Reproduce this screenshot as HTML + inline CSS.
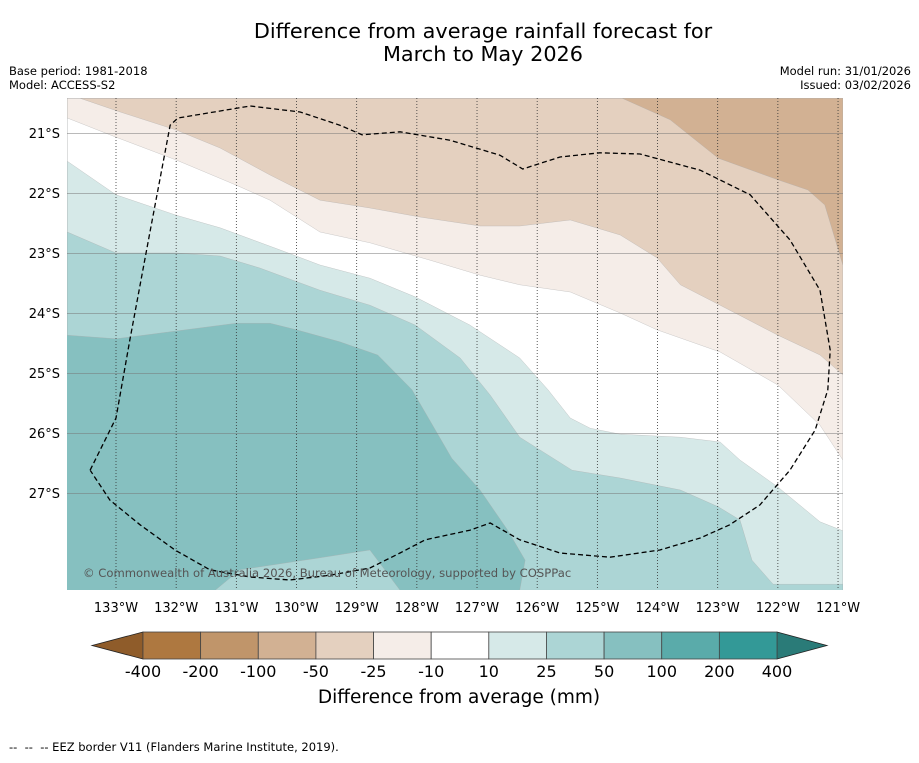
<!DOCTYPE html>
<html><head><meta charset="utf-8"><style>
body{margin:0;background:#fff;}
svg text{font-family:"DejaVu Sans","Liberation Sans",sans-serif;}
</style></head><body>
<svg id="chart" width="919" height="758" viewBox="0 0 919 758" xmlns="http://www.w3.org/2000/svg">
<text x="483" y="38" font-size="20.8" text-anchor="middle">Difference from average rainfall forecast for</text>
<text x="483" y="61" font-size="20.8" text-anchor="middle">March to May 2026</text>
<text x="9" y="75" font-size="11.5">Base period: 1981-2018</text>
<text x="9" y="89" font-size="11.5">Model: ACCESS-S2</text>
<text x="911" y="75" font-size="11.5" text-anchor="end">Model run: 31/01/2026</text>
<text x="911" y="89" font-size="11.5" text-anchor="end">Issued: 03/02/2026</text>
<g id="map"></g>
<g id="cbar"></g>
<text x="459" y="703" font-size="18.5" text-anchor="middle">Difference from average (mm)</text>
<text x="9" y="751" font-size="11.5" style="white-space:pre" xml:space="preserve">--  --  -- EEZ border V11 (Flanders Marine Institute, 2019).</text>
</svg>
<script>
const lonTicks=[133,132,131,130,129,128,127,126,125,124,123,122,121];
const latTicks=[21,22,23,24,25,26,27];
const bandColors=["#86c0c0","#acd5d5","#d6e9e8","#ffffff","#f5ede8","#e4d0bf","#d2b193"];
const b1=[[133.81,24.37],[133,24.43],[132,24.3],[131,24.17],[130.44,24.17],[130,24.28],[129.28,24.48],[128.65,24.7],[128.08,25.28],[127.42,26.42],[126.95,26.95],[126.49,27.62],[126.2,28.12],[126.29,28.62],[120.92,28.62]];
const b2=[[133.81,22.65],[133,23],[132,23],[131.27,23.05],[130.61,23.25],[129.61,23.62],[128.78,23.87],[128.03,24.2],[127.28,24.75],[126.78,25.37],[126.29,26.07],[125.42,26.62],[124.62,26.75],[123.62,26.95],[122.99,27.23],[122.63,27.45],[122.43,28.12],[122.08,28.52],[120.92,28.52]];
const b3=[[133.81,21.47],[133,22.03],[132,22.37],[131.27,22.58],[130.27,22.95],[129.61,23.2],[128.78,23.42],[128.03,23.73],[127.12,24.2],[126.29,24.75],[125.82,25.28],[125.45,25.75],[125.12,25.92],[124.62,26.02],[123.62,26.07],[122.96,26.15],[122.63,26.45],[122,26.9],[121.3,27.48],[120.92,27.63]];
const b4=[[133.81,20.75],[133,21.07],[132,21.45],[131,21.87],[130.44,22.12],[129.61,22.65],[128.78,22.83],[127.78,23.12],[126.95,23.37],[126.29,23.53],[125.45,23.65],[124.62,24],[124.01,24.28],[122.96,24.65],[122,25.2],[121.3,25.87],[120.92,26.45]];
const b5=[[133.6,20.42],[132.93,20.65],[132,20.95],[131.27,21.25],[130.44,21.7],[129.61,22.12],[128.78,22.25],[127.95,22.4],[126.95,22.55],[126.29,22.55],[125.45,22.45],[124.62,22.7],[124.01,23.08],[123.62,23.53],[122.96,23.87],[122,24.37],[121.3,24.7],[120.92,25.03]];
const b6=[[124.59,20.42],[123.79,20.78],[122.99,21.42],[122,21.78],[121.5,21.95],[121.22,22.2],[120.92,23.2]];
const patch=[[131.35,28.62],[130.94,28.28],[129.61,28.08],[128.78,27.95],[128.28,28.62]];
const eez=[[133.43,26.62],[133,25.75],[132.77,24.45],[132.43,22.62],[132.1,20.87],[131.97,20.75],[130.77,20.55],[129.94,20.65],[129.28,20.87],[128.91,21.03],[128.28,20.98],[127.45,21.12],[126.62,21.37],[126.24,21.6],[125.62,21.4],[124.96,21.33],[124.29,21.35],[123.29,21.62],[122.46,22.03],[121.8,22.78],[121.3,23.62],[121.13,24.62],[121.17,25.28],[121.38,25.95],[121.8,26.62],[122.3,27.2],[122.8,27.53],[123.29,27.75],[123.96,27.95],[124.79,28.07],[125.62,28],[126.29,27.78],[126.78,27.5],[127.12,27.62],[127.86,27.78],[128.28,28],[128.78,28.25],[129.44,28.37],[130.11,28.45],[130.77,28.4],[131.44,28.28],[132.02,27.95],[132.6,27.53],[133.1,27.12],[133.43,26.62]];
const cbLabels=["-400","-200","-100","-50","-25","-10","10","25","50","100","200","400"];
const cbColors=["#ae7840","#c0956a","#d2b193","#e4d0bf","#f5ede8","#ffffff","#d6e9e8","#acd5d5","#86c0c0","#5aabaa","#339997"];

const NS="http://www.w3.org/2000/svg";
const X0=67,X1=843,Y0=98,Y1=590;
const W_MAX=133.81,W_MIN=120.92,S_MIN=20.42,S_MAX=28.62;
function xs(w){return 116+(133-w)*60.17;}
function ys(s){return 133+(s-21)*60;}
function mk(t,a,p){const e=document.createElementNS(NS,t);for(const k in a)e.setAttribute(k,a[k]);p.appendChild(e);return e;}
const map=document.getElementById('map');
const defs=mk('defs',{},map);
const cp=mk('clipPath',{id:'clip'},defs);
mk('rect',{x:X0,y:Y0,width:X1-X0,height:Y1-Y0},cp);
const g=mk('g',{'clip-path':'url(#clip)'},map);
let bg=mk('rect',{x:X0,y:Y0,width:X1-X0,height:Y1-Y0,fill:bandColors[0]},g);


const bounds=[b1,b2,b3,b4,b5,b6];
const names=['band-25-50','band-10-25','band-neutral','band-minus10-25','band-minus25-50','band-minus50-100'];
bounds.forEach((b,i)=>{
  const pts=b.map(p=>xs(p[0])+','+ys(p[1]));
  pts.push(xs(W_MIN)+','+ys(S_MIN));pts.push(xs(W_MAX)+','+ys(S_MIN));
  const el=mk('polygon',{points:pts.join(' '),fill:bandColors[i+1],stroke:'#aaa','stroke-width':0.3},g);
  
  
});
const pe=mk('polygon',{points:patch.map(p=>xs(p[0])+','+ys(p[1])).join(' '),fill:bandColors[1],stroke:'#aaa','stroke-width':0.3},g);


latTicks.forEach(s=>{
  const l=mk('line',{x1:X0,x2:X1,y1:ys(s)+0.5,y2:ys(s)+0.5,stroke:'#777','stroke-width':0.6},g);
  
  
  const t=mk('text',{x:60,y:ys(s)+5,'font-size':13,'text-anchor':'end'},map);
  t.textContent=s+'°S';
  
  
});
lonTicks.forEach(w=>{
  const l=mk('line',{x1:xs(w),x2:xs(w),y1:Y0,y2:Y1,stroke:'#333','stroke-width':0.8,'stroke-dasharray':'1,2'},g);
  
  
  const t=mk('text',{x:xs(w),y:612,'font-size':13,'text-anchor':'middle'},map);
  t.textContent=w+'°W';
  
  
});
const ez=mk('polyline',{points:eez.map(p=>xs(p[0])+','+ys(p[1])).join(' '),fill:'none',stroke:'#000','stroke-width':1.3,'stroke-dasharray':'5,3'},g);


const cr=mk('text',{x:83,y:577,'font-size':11.6,fill:'#555'},g);
cr.textContent='© Commonwealth of Australia 2026, Bureau of Meteorology, supported by COSPPac';



const cb=document.getElementById('cbar');
const CX0=143,CX1=777,CY0=632,CY1=659,bw=(CX1-CX0)/cbColors.length;
const lt=mk('polygon',{points:`92,645.5 ${CX0},${CY0} ${CX0},${CY1}`,fill:'#8f5c2a',stroke:'#222','stroke-width':0.8},cb);


const rt=mk('polygon',{points:`827,645.5 ${CX1},${CY0} ${CX1},${CY1}`,fill:'#2a7b78',stroke:'#222','stroke-width':0.8},cb);


cbColors.forEach((c,i)=>{
  const r=mk('rect',{x:CX0+i*bw,y:CY0,width:bw,height:CY1-CY0,fill:c,stroke:'#444','stroke-width':0.8},cb);
  
  
});
cbLabels.forEach((s,i)=>{
  const t=mk('text',{x:CX0+i*bw,y:677,'font-size':16,'text-anchor':'middle'},cb);
  t.textContent=s;
  
  
});
</script>
</body></html>
